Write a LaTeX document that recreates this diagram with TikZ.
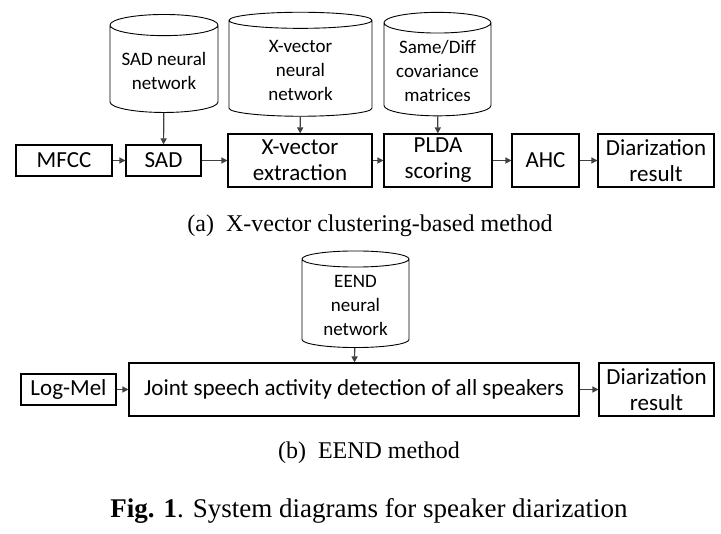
\documentclass[tikz,border=0pt]{standalone}
\usepackage{fontspec}
\setmainfont{Liberation Serif}
\newfontfamily\calfont{Carlito}
\usetikzlibrary{shapes.geometric,arrows.meta}
\newcommand{\cyltext}[1]{\raisebox{-3.5pt}[\height][\depth]{\begin{tabular}{@{}c@{}}#1\end{tabular}}}
\begin{document}
\begin{tikzpicture}[x=1pt,y=-1pt,
  blk/.style={draw,line width=1.1pt,align=center,inner sep=0pt,
    font=\calfont\fontsize{23}{26}\selectfont},
  db/.style={draw,line width=0.9pt,cylinder,shape border rotate=90,aspect=0.25,
    inner sep=0pt,font=\calfont\fontsize{19}{24}\selectfont},
  arr/.style={-{Triangle[length=6pt,width=6pt]},line width=1.2pt,draw=black!75,fill=black!75},
  subcap/.style={font=\fontsize{24}{27}\selectfont}]
\useasboundingbox (0,0) rectangle (721,534);
\node[blk,minimum width=96,minimum height=31] (mfcc) at (64,160.5) {MFCC};
\node[blk,minimum width=75,minimum height=31] (sad) at (163.5,160.5) {SAD};
\node[blk,minimum width=144,minimum height=53] (xvec) at (300,160.5) {X-vector\\extraction};
\node[blk,minimum width=108,minimum height=53] (plda) at (438,160.5) {PLDA\\scoring};
\node[blk,minimum width=67,minimum height=53] (ahc) at (545.5,160.5) {AHC};
\node[blk,minimum width=116,minimum height=53] (res1) at (656,160.5) {Diarization\\result};
\node[db,minimum width=108,minimum height=98] (sadnn) at (164,69) {\cyltext{SAD neural\\network}};
\node[db,minimum width=143,minimum height=104] (xvecnn) at (300.5,68.5) {\cyltext{X-vector\\neural\\network}};
\node[db,minimum width=107,minimum height=95] (covm) at (437.5,69.5) {\cyltext{Same/Diff\\covariance\\matrices}};
\draw[arr] (mfcc) -- (sad);
\draw[arr] (sad) -- (xvec);
\draw[arr] (xvec) -- (plda);
\draw[arr] (plda) -- (ahc);
\draw[arr] (ahc) -- (res1);
\draw[arr] (sadnn) -- (sad);
\draw[arr] (xvecnn) -- (xvec);
\draw[arr] (covm) -- (plda);
\node[subcap] (capa) at (370,226) {(a)\enspace X-vector clustering-based method};
\node[blk,minimum width=95,minimum height=31] (logmel) at (68.5,389.5) {Log-Mel};
\node[blk,minimum width=450,minimum height=53] (joint) at (354,389.5) {Joint speech activity detection of all speakers};
\node[blk,minimum width=115,minimum height=53] (res2) at (656.5,389.5) {Diarization\\result};
\node[db,minimum width=107,minimum height=85] (eendnn) at (355.5,303.5) {\cyltext{EEND\\neural\\network}};
\draw[arr] (logmel) -- (joint);
\draw[arr] (joint) -- (res2);
\draw[arr] (eendnn) -- (joint);
\node[subcap] (capb) at (369,453) {(b)\enspace EEND method};
\node[font=\fontsize{27}{30}\selectfont] (fig) at (369,511) {\textbf{Fig. 1}. System diagrams for speaker diarization};
\end{tikzpicture}
\end{document}
